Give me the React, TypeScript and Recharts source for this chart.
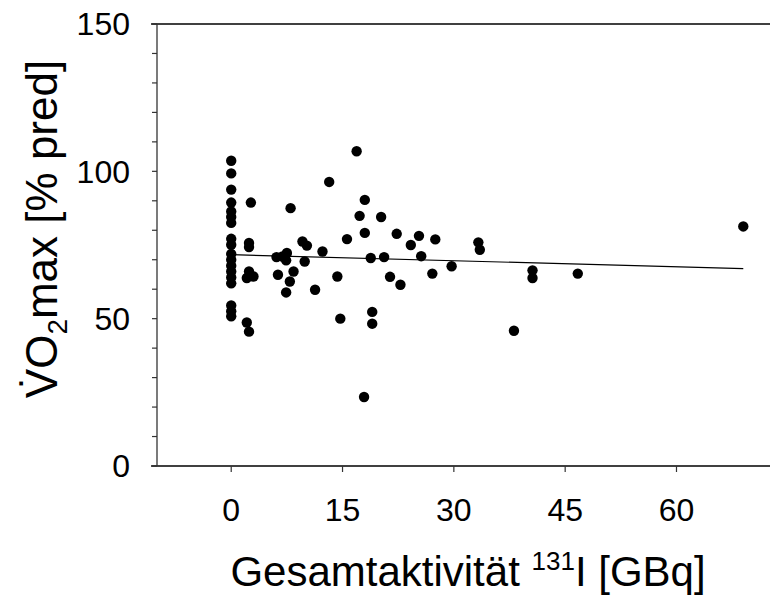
import { ComposedChart, Scatter, XAxis, YAxis, ReferenceLine, Label } from 'recharts'

const FONT = '"Liberation Sans", Arial, Helvetica, sans-serif'

// Gesamtaktivität 131I [GBq]
const activity = [
  0, 0, 0, 0, 0, 0, 0, 0, 0, 0, 0, 0, 0, 0, 0, 0, 0, 0,
  2.65, 2.4, 2.4, 2.4, 2.1, 3.0, 2.1, 2.4,
  8.0, 6.1, 6.9, 7.5, 7.4, 6.3, 8.4, 7.9, 7.4,
  9.6, 10.2, 9.9, 11.3, 12.3, 13.2, 14.3, 14.7, 15.6,
  16.9, 18.0, 17.3, 20.2, 18.0, 18.8, 20.6, 19.0, 19.0, 17.9,
  22.3, 25.3, 24.2, 27.5, 25.6, 29.7, 27.1, 21.4, 22.8,
  33.3, 33.5, 40.6, 40.6, 46.7, 38.1, 69.0,
]

// VO2max [% pred]
const vo2max = [
  103.6, 99.3, 93.8, 89.4, 86.4, 84.5, 82.5, 77.1, 75.1, 72, 70, 68, 66, 64, 62, 54.5, 52.5, 50.8,
  89.4, 75.7, 74.3, 66.0, 63.8, 64.3, 48.7, 45.6,
  87.5, 70.9, 71.1, 72.3, 69.8, 64.9, 66.0, 62.6, 58.9,
  76.2, 74.8, 69.4, 59.8, 72.8, 96.4, 64.3, 50.0, 77.0,
  106.8, 90.3, 84.9, 84.5, 79.1, 70.6, 70.9, 52.3, 48.3, 23.4,
  78.8, 78.1, 75.0, 76.9, 71.2, 67.8, 65.3, 64.2, 61.5,
  75.9, 73.4, 66.4, 63.8, 65.3, 45.9, 81.3,
]

// regression line end points
const fitX = [0, 69.0]
const fitY = [71.7, 67.0]

const xTicks = [0, 15, 30, 45, 60]
const yTicks = [0, 10, 20, 30, 40, 50, 60, 70, 80, 90, 100, 110, 120, 130, 140, 150]

const points = activity.map((x, i) => ({ x, y: vo2max[i] }))
const fit = fitX.map((x, i) => ({ x, y: fitY[i] }))

const Dot = (p: any) => <circle cx={p.cx} cy={p.cy} r={5.2} fill="#000" />

const YTitle = (props: any) => {
  const cx = 57
  const cy = 229
  return (
    <text x={cx} y={cy} transform={`rotate(-90, ${cx}, ${cy})`} textAnchor="middle" fontSize={44} fontFamily={FONT} fill="#000">
      V̇O<tspan fontSize={28} dy={10}>2</tspan><tspan dy={-10}>max [% pred]</tspan>
    </text>
  )
}

const XTitle = () => (
  <text x={468} y={586} textAnchor="middle" fontSize={42} fontFamily={FONT} fill="#000">
    Gesamtaktivität <tspan fontSize={26} dy={-16}>131</tspan><tspan dy={16}>I [GBq]</tspan>
  </text>
)

export default function App() {
  return (
    <div style={{ position: 'fixed', left: 0, top: 0, width: 770, height: 601, background: '#fff', overflow: 'hidden' }}>
      <ComposedChart width={770} height={601} margin={{ top: 24, right: 0, bottom: 0, left: 0 }}>
        <XAxis
          type="number"
          dataKey="x"
          domain={[-10, 72.6]}
          ticks={xTicks}
          allowDataOverflow
          height={135}
          tickSize={6}
          tickMargin={26}
          axisLine={false}
          tickLine={{ stroke: '#333', strokeWidth: 1.2 }}
          tick={{ fill: '#000', fontSize: 32, fontFamily: FONT }}
        >
          <Label content={<XTitle />} />
        </XAxis>
        <YAxis
          type="number"
          dataKey="y"
          domain={[0, 150]}
          ticks={yTicks}
          interval={0}
          width={157}
          tickSize={5}
          tickMargin={22}
          axisLine={{ stroke: '#333', strokeWidth: 1.3 }}
          tickLine={{ stroke: '#333', strokeWidth: 1.2 }}
          tickFormatter={(v: number) => (v % 50 === 0 ? String(v) : '')}
          tick={{ fill: '#000', fontSize: 32, fontFamily: FONT }}
        >
          <Label content={<YTitle />} />
        </YAxis>
        <ReferenceLine segment={[{ x: -10.8, y: 0 }, { x: 72.6, y: 0 }]} stroke="#000" strokeWidth={1.6} ifOverflow="visible" />
        <ReferenceLine segment={[{ x: -10.8, y: 150 }, { x: 72.6, y: 150 }]} stroke="#000" strokeWidth={1.6} ifOverflow="visible" />
        <Scatter data={fit} line={{ stroke: '#000', strokeWidth: 1.2 }} shape={() => <g />} isAnimationActive={false} />
        <Scatter data={points} shape={Dot} isAnimationActive={false} />
      </ComposedChart>
    </div>
  )
}
